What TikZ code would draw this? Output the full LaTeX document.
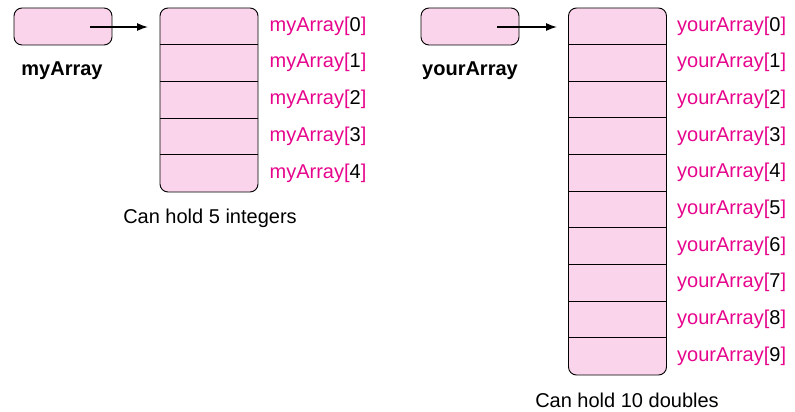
\documentclass[tikz,border=0pt]{standalone}
\usepackage{fontspec}
\setmainfont{Liberation Sans}
\usetikzlibrary{arrows.meta,positioning}
\definecolor{cellpink}{HTML}{FAD4EA}
\definecolor{idxmag}{HTML}{E6058C}
\newcommand{\idxlabel}[2]{\textcolor{idxmag}{#1[}#2\textcolor{idxmag}{]}}

\begin{document}
\begin{tikzpicture}[x=1pt,y=-1pt,>={Latex[length=11pt,width=8pt]},
  ptrbox/.style={draw,fill=cellpink,rounded corners=8pt,line width=0.9pt,
    minimum width=98pt,minimum height=37pt,inner sep=0pt},
  arrbox/.style={draw,fill=cellpink,rounded corners=8pt,line width=0.9pt,
    minimum width=98pt,inner sep=0pt},
  idx/.style={anchor=west,inner sep=0pt,font=\fontsize{20}{23}\selectfont},
  varname/.style={inner sep=0pt,font=\fontsize{20}{23}\selectfont\bfseries},
  caption/.style={inner sep=0pt,font=\fontsize{20}{23}\selectfont}]
  \useasboundingbox (0,0) rectangle (795,412);

  % left: int array of 5
  \node[ptrbox] (myp) at (63,26.5) {};
  \node[varname] (myn) at (62,71) {myArray};
  \node[arrbox,minimum height=184pt] (mya) at (209,100) {};
  \foreach \k in {1,...,4}
    \draw[line width=0.9pt] ([yshift={-36.8*\k*1pt}]mya.north west) -- ([yshift={-36.8*\k*1pt}]mya.north east);
  \foreach \i in {0,...,4}
    \node[idx] (myl\i) at ([xshift=11pt,yshift={-(18.4+36.8*\i)*1pt}]mya.north east) {\idxlabel{myArray}{\i}};
  \coordinate (mys) at (90,27);
  \coordinate (mye) at (148,27);
  \draw[->,line width=1.4pt] (mys) -- (mye);
  \node[caption] (myc) at (210,218) {Can hold 5 integers};

  % right: double array of 10
  \node[ptrbox] (yrp) at (470,26.5) {};
  \node[varname] (yrn) at (470,71) {yourArray};
  \node[arrbox,minimum height=367pt] (yra) at (617.5,191.5) {};
  \foreach \k in {1,...,9}
    \draw[line width=0.9pt] ([yshift={-36.7*\k*1pt}]yra.north west) -- ([yshift={-36.7*\k*1pt}]yra.north east);
  \foreach \i in {0,...,9}
    \node[idx] (yrl\i) at ([xshift=10pt,yshift={-(18.35+36.7*\i)*1pt}]yra.north east) {\idxlabel{yourArray}{\i}};
  \coordinate (yrs) at (497,27);
  \coordinate (yre) at (557,27);
  \draw[->,line width=1.4pt] (yrs) -- (yre);
  \node[caption] (yrc) at (627,400) {Can hold 10 doubles};
\end{tikzpicture}
\end{document}
